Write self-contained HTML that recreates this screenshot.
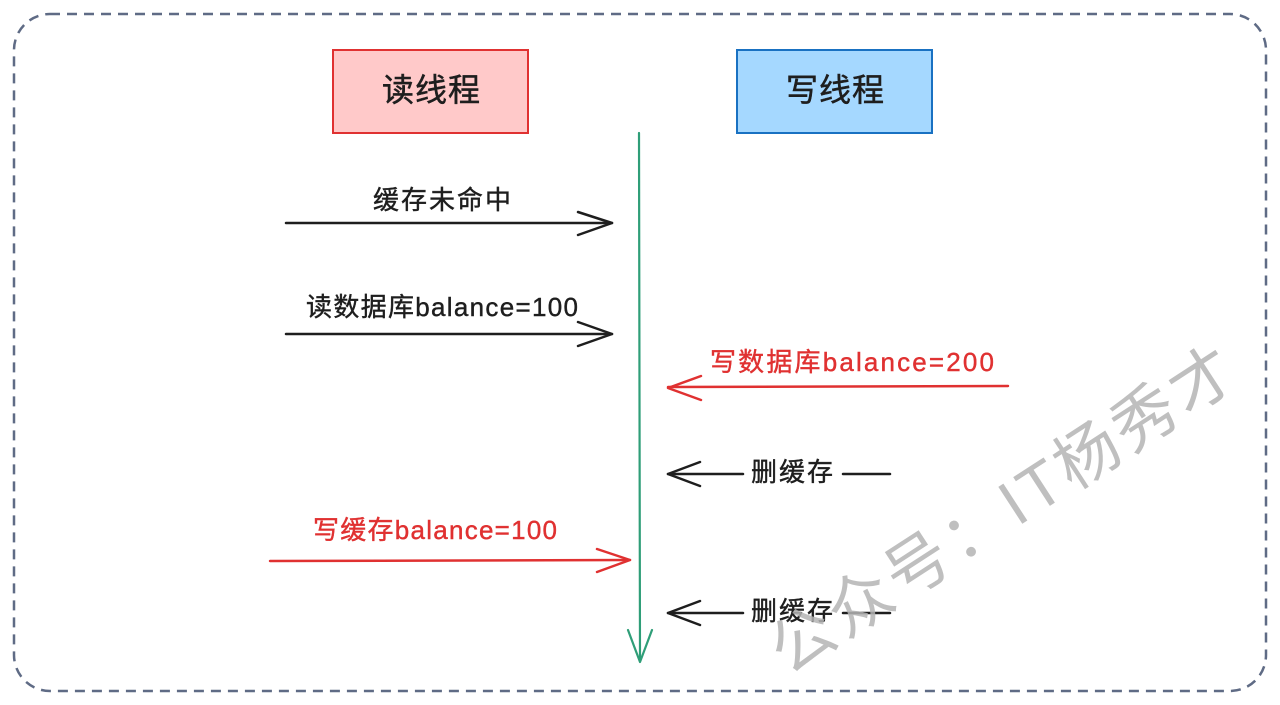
<!DOCTYPE html>
<html><head><meta charset="utf-8"><style>
html,body{margin:0;padding:0;background:#fff;}
svg{display:block;}
text{font-family:"Liberation Sans","Noto Sans CJK SC",sans-serif;}
</style></head><body>
<svg width="1280" height="705" viewBox="0 0 1280 705" xmlns="http://www.w3.org/2000/svg">
<rect x="14" y="14" width="1252" height="677" rx="36" ry="36" fill="#fff" stroke="#5f6b85" stroke-width="2.5" stroke-dasharray="10 7"/>
<rect x="333" y="50" width="195" height="83" fill="#ffc9c9" stroke="#e03131" stroke-width="2"/>
<text x="431" y="101" font-size="32" text-anchor="middle" fill="#1e1e1e" stroke="#1e1e1e" stroke-width="0.5" textLength="98">读线程</text>
<rect x="737" y="50" width="195" height="83" fill="#a5d8ff" stroke="#1971c2" stroke-width="2"/>
<text x="835" y="101" font-size="32" text-anchor="middle" fill="#1e1e1e" stroke="#1e1e1e" stroke-width="0.5" textLength="98">写线程</text>
<g fill="none" stroke-linecap="round" stroke-linejoin="round">
<line x1="639" y1="133" x2="640" y2="660" stroke="#2f9e78" stroke-width="2.2"/>
<polyline points="628,630 640,662 652,630" stroke="#2f9e78" stroke-width="2.2"/>
<g stroke="#1e1e1e" stroke-width="2.5">
<line x1="286" y1="223" x2="612" y2="223"/><polyline points="578,212 612,223 578,235"/>
<line x1="286" y1="334" x2="612" y2="334"/><polyline points="578,322 612,334 578,346"/>
<line x1="668" y1="474" x2="743" y2="474"/><polyline points="700,462 668,474 700,486"/>
<line x1="843" y1="474" x2="890" y2="474"/>
<line x1="668" y1="613" x2="743" y2="613"/><polyline points="700,601 668,613 700,625"/>
<line x1="843" y1="613" x2="890" y2="613"/>
</g>
<g stroke="#e03131" stroke-width="2.5">
<line x1="668" y1="387" x2="1008" y2="386"/><polyline points="701,376 668,388 701,400"/>
<line x1="270" y1="561" x2="630" y2="560"/><polyline points="597,549 630,560 597,572"/>
</g>
</g>
<g font-size="26" text-anchor="middle" stroke-width="0.4">
<text x="442" y="209" fill="#1e1e1e" stroke="#1e1e1e" textLength="138">缓存未命中</text>
<text x="442" y="316" fill="#1e1e1e" stroke="#1e1e1e" textLength="272">读数据库balance=100</text>
<text x="852" y="371" fill="#e03131" stroke="#e03131" textLength="284">写数据库balance=200</text>
<text x="792" y="481" fill="#1e1e1e" stroke="#1e1e1e" textLength="82">删缓存</text>
<text x="792" y="620" fill="#1e1e1e" stroke="#1e1e1e" textLength="82">删缓存</text>
<text x="435" y="539" fill="#e03131" stroke="#e03131" textLength="244">写缓存balance=100</text>
</g>
<text x="0" y="0" font-size="64" fill="#b4b4b4" fill-opacity="0.85" transform="translate(788,676) rotate(-33)" textLength="540">公众号：IT杨秀才</text>
</svg>
</body></html>
